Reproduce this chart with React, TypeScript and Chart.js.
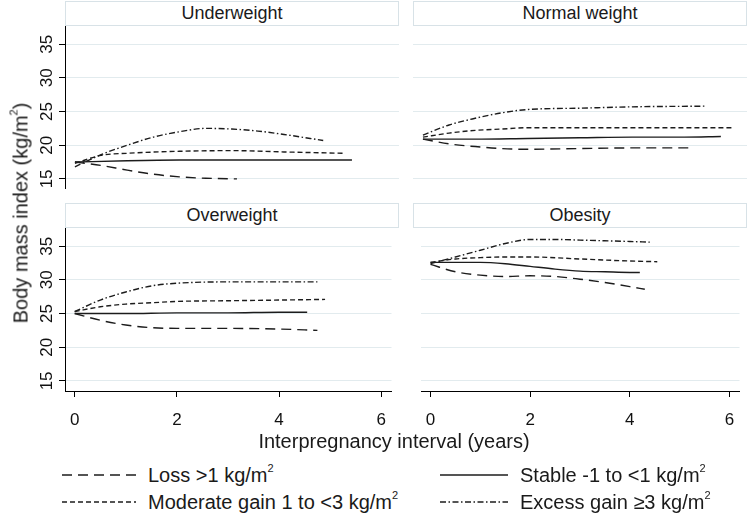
import React, { useEffect, useRef } from "react";
import { Chart, registerables } from "chart.js";

Chart.register(...registerables);

// ---------- data ----------
const yTicks = [15, 20, 25, 30, 35];
const xTicks = [0, 2, 4, 6];
const Y_MIN = 13.5;
const Y_MAX = 37.7;
const X_MIN = -0.19;
const X_MAX = 6.2;

const panelTitles = ["Underweight", "Normal weight", "Overweight", "Obesity"];
const seriesLabels = [
  "Loss >1 kg/m",
  "Stable -1 to <1 kg/m",
  "Moderate gain 1 to <3 kg/m",
  "Excess gain \u22653 kg/m",
];

// Underweight
const uwLossX = [0, 0.5, 1, 1.5, 2, 2.5, 3.1];
const uwLossY = [17.5, 17.0, 16.3, 15.7, 15.3, 15.1, 15.0];
const uwStableX = [0, 1, 2, 3, 4, 5.3];
const uwStableY = [17.5, 17.7, 17.8, 17.8, 17.8, 17.8];
const uwModX = [0, 0.5, 1, 2, 3, 4, 5.15];
const uwModY = [17.3, 18.5, 18.8, 19.1, 19.2, 19.0, 18.8];
const uwExcX = [0, 0.5, 1, 1.5, 2, 2.5, 3, 3.5, 4, 4.75];
const uwExcY = [16.8, 18.6, 20.0, 21.2, 22.0, 22.5, 22.4, 22.1, 21.6, 20.7];

// Normal weight
const nwLossX = [0, 0.5, 1, 1.5, 2, 3, 4, 5.1];
const nwLossY = [20.9, 20.2, 19.8, 19.5, 19.4, 19.5, 19.6, 19.6];
const nwStableX = [0, 1, 2, 3, 4, 5, 5.7];
const nwStableY = [20.9, 20.9, 21.0, 21.1, 21.2, 21.2, 21.3];
const nwModX = [0, 0.5, 1, 1.5, 2, 3, 4, 5, 5.95];
const nwModY = [21.2, 21.8, 22.2, 22.4, 22.6, 22.6, 22.6, 22.6, 22.6];
const nwExcX = [0, 0.5, 1, 1.5, 2, 3, 4, 5.4];
const nwExcY = [21.5, 23.0, 24.0, 24.8, 25.3, 25.5, 25.7, 25.8];

// Overweight
const owLossX = [0, 0.5, 1, 1.5, 2, 3, 4, 4.75];
const owLossY = [25.0, 24.0, 23.3, 22.9, 22.8, 22.8, 22.7, 22.5];
const owStableX = [0, 1, 2, 3, 4, 4.55];
const owStableY = [25.0, 25.0, 25.1, 25.1, 25.2, 25.2];
const owModX = [0, 0.5, 1, 1.5, 2, 3, 4, 4.9];
const owModY = [25.3, 26.0, 26.4, 26.6, 26.8, 26.9, 27.0, 27.1];
const owExcX = [0, 0.5, 1, 1.5, 2, 3, 4, 4.75];
const owExcY = [25.3, 27.0, 28.2, 29.1, 29.5, 29.7, 29.7, 29.7];

// Obesity
const obLossX = [0, 0.5, 1, 1.5, 2, 2.5, 3, 3.5, 4, 4.3];
const obLossY = [32.3, 31.2, 30.7, 30.5, 30.6, 30.5, 30.1, 29.6, 29.0, 28.6];
const obStableX = [0, 0.5, 1, 1.5, 2, 2.5, 3, 3.5, 4, 4.2];
const obStableY = [32.6, 32.6, 32.6, 32.4, 32.0, 31.6, 31.3, 31.2, 31.1, 31.1];
const obModX = [0, 0.5, 1, 1.5, 2, 3, 4, 4.55];
const obModY = [32.6, 33.1, 33.3, 33.4, 33.4, 33.1, 32.8, 32.7];
const obExcX = [0, 0.5, 1, 1.5, 2, 2.5, 3, 4, 4.4];
const obExcY = [32.4, 33.4, 34.4, 35.4, 36.0, 36.0, 35.9, 35.7, 35.6];

// ---------- styles ----------
const FONT = "'Liberation Sans', Arial, sans-serif";
const LINE_COLOR = "#1c1c1c";
const GRID_COLOR = "#e2ebee";
const STRIP_BORDER = "#d8e2e7";
const dashes: number[][] = [[10, 6], [], [5, 3], [6, 2.5, 1.5, 2.5]];

const pts = (xs: number[], ys: number[]) => xs.map((x, i) => ({ x, y: ys[i] }));

const panelSeries = [
  [pts(uwLossX, uwLossY), pts(uwStableX, uwStableY), pts(uwModX, uwModY), pts(uwExcX, uwExcY)],
  [pts(nwLossX, nwLossY), pts(nwStableX, nwStableY), pts(nwModX, nwModY), pts(nwExcX, nwExcY)],
  [pts(owLossX, owLossY), pts(owStableX, owStableY), pts(owModX, owModY), pts(owExcX, owExcY)],
  [pts(obLossX, obLossY), pts(obStableX, obStableY), pts(obModX, obModY), pts(obExcX, obExcY)],
];

// draws rotated y tick labels (reading upward) at the y-scale's tick positions
const rotatedYLabels = {
  id: "rotatedYLabels",
  afterDraw(chart: any, _args: any, opts: any) {
    if (!opts || !opts.show) return;
    const s = chart.scales.y;
    const ctx = chart.ctx;
    ctx.save();
    ctx.font = `17px ${FONT}`;
    ctx.fillStyle = "#111";
    ctx.textAlign = "center";
    ctx.textBaseline = "middle";
    yTicks.forEach((v) => {
      const py = s.getPixelForValue(v);
      ctx.save();
      ctx.translate(s.right - 18, py);
      ctx.rotate(-Math.PI / 2);
      ctx.fillText(String(v), 0, 0);
      ctx.restore();
    });
    ctx.restore();
  },
};

type PanelProps = {
  idx: number;
  left: number;
  top: number;
  width: number;
  height: number;
  showYLabels: boolean;
  showXAxis: boolean;
};

function Panel({ idx, left, top, width, height, showYLabels, showXAxis }: PanelProps) {
  const ref = useRef<HTMLCanvasElement | null>(null);
  useEffect(() => {
    if (!ref.current) return;
    const chart = new Chart(ref.current, {
      type: "line",
      data: {
        datasets: panelSeries[idx].map((d, i) => ({
          label: seriesLabels[i],
          data: d,
          borderColor: LINE_COLOR,
          borderWidth: 1.4,
          borderDash: dashes[i],
          pointRadius: 0,
          fill: false,
          tension: 0.4,
          cubicInterpolationMode: "monotone" as const,
        })),
      },
      plugins: [rotatedYLabels],
      options: {
        animation: false,
        responsive: false,
        maintainAspectRatio: false,
        events: [],
        layout: { padding: 0 },
        plugins: {
          legend: { display: false },
          tooltip: { enabled: false },
          title: { display: false },
          rotatedYLabels: { show: showYLabels },
        },
        scales: {
          x: {
            type: "linear",
            min: X_MIN,
            max: X_MAX,
            display: showXAxis,
            afterBuildTicks: (s: any) => {
              s.ticks = xTicks.map((v) => ({ value: v }));
            },
            afterFit: (s: any) => {
              s.height = showXAxis ? 40 : 0;
            },
            grid: { drawOnChartArea: false, drawTicks: true, tickLength: 6, tickColor: "#000", lineWidth: 1 },
            border: { display: true, color: "#000", width: 1 },
            ticks: {
              font: { size: 17, family: FONT },
              color: "#111",
              padding: 13,
              maxRotation: 0,
              minRotation: 0,
              autoSkip: false,
            },
          },
          y: {
            type: "linear",
            min: Y_MIN,
            max: Y_MAX,
            afterBuildTicks: (s: any) => {
              s.ticks = yTicks.map((v) => ({ value: v }));
            },
            afterFit: (s: any) => {
              s.width = showYLabels ? 65 : 0;
            },
            grid: {
              color: GRID_COLOR,
              lineWidth: 1,
              drawTicks: showYLabels,
              tickLength: 6,
              tickColor: "#000",
            },
            border: { display: showYLabels, color: "#000", width: 1 },
            ticks: { display: false },
          },
        },
      } as any,
    });
    return () => chart.destroy();
  }, [idx, showYLabels, showXAxis]);
  return (
    <canvas
      ref={ref}
      width={width}
      height={height}
      style={{ position: "absolute", left, top, width, height }}
    />
  );
}

function Strip({ left, top, width, text }: { left: number; top: number; width: number; text: string }) {
  return (
    <div
      style={{
        position: "absolute",
        left,
        top,
        width: width - 2,
        height: 23,
        border: `1px solid ${STRIP_BORDER}`,
        background: "#fff",
        fontFamily: FONT,
        fontSize: 18,
        lineHeight: "23px",
        textAlign: "center",
        color: "#1a1a1a",
      }}
    >
      {text}
    </div>
  );
}

function LegendItem({ left, top, lineW, dash, text }: { left: number; top: number; lineW: number; dash: number[]; text: string }) {
  return (
    <div style={{ position: "absolute", left, top: top - 14, height: 28, display: "flex", alignItems: "center", whiteSpace: "nowrap" }}>
      <svg width={lineW} height={4} style={{ display: "block" }}>
        <line x1={0} y1={2} x2={lineW} y2={2} stroke={LINE_COLOR} strokeWidth={1.4} strokeDasharray={dash.length ? dash.join(" ") : undefined} />
      </svg>
      <span style={{ marginLeft: 12, fontFamily: FONT, fontSize: 20, color: "#1a1a1a" }}>
        {text}
        <sup style={{ fontSize: 11, verticalAlign: 10, lineHeight: 0 }}>2</sup>
      </span>
    </div>
  );
}

export default function App() {
  const TOP1 = 26;
  const TOP2 = 228;
  const PH = 163;
  return (
    <div style={{ position: "fixed", left: 0, top: 0, width: 749, height: 515, background: "#fff", overflow: "hidden" }}>
      <Strip left={65} top={1} width={334} text={panelTitles[0]} />
      <Strip left={413} top={1} width={334} text={panelTitles[1]} />
      <Strip left={65} top={203} width={334} text={panelTitles[2]} />
      <Strip left={413} top={203} width={334} text={panelTitles[3]} />

      <Panel idx={0} left={0} top={TOP1} width={399} height={PH} showYLabels={true} showXAxis={false} />
      <Panel idx={1} left={413} top={TOP1} width={334} height={PH} showYLabels={false} showXAxis={false} />
      <Panel idx={2} left={0} top={TOP2} width={399} height={PH + 40} showYLabels={true} showXAxis={true} />
      <Panel idx={3} left={413} top={TOP2} width={334} height={PH + 40} showYLabels={false} showXAxis={true} />

      <div
        style={{
          position: "absolute",
          left: 394,
          top: 441,
          transform: "translate(-50%, -50%)",
          fontFamily: FONT,
          fontSize: 20,
          whiteSpace: "nowrap",
          color: "#1a1a1a",
        }}
      >
        Interpregnancy interval (years)
      </div>
      <div
        style={{
          position: "absolute",
          left: 21,
          top: 213,
          transform: "translate(-50%, -50%) rotate(-90deg)",
          fontFamily: FONT,
          fontSize: 20,
          whiteSpace: "nowrap",
          color: "#1a1a1a",
        }}
      >
        Body mass index (kg/m<sup style={{ fontSize: 11, verticalAlign: 10, lineHeight: 0 }}>2</sup>)
      </div>

      <LegendItem left={62} top={475} lineW={74} dash={dashes[0]} text={seriesLabels[0]} />
      <LegendItem left={62} top={502} lineW={74} dash={dashes[2]} text={seriesLabels[2]} />
      <LegendItem left={440} top={475} lineW={68} dash={dashes[1]} text={seriesLabels[1]} />
      <LegendItem left={440} top={502} lineW={68} dash={dashes[3]} text={seriesLabels[3]} />
    </div>
  );
}
